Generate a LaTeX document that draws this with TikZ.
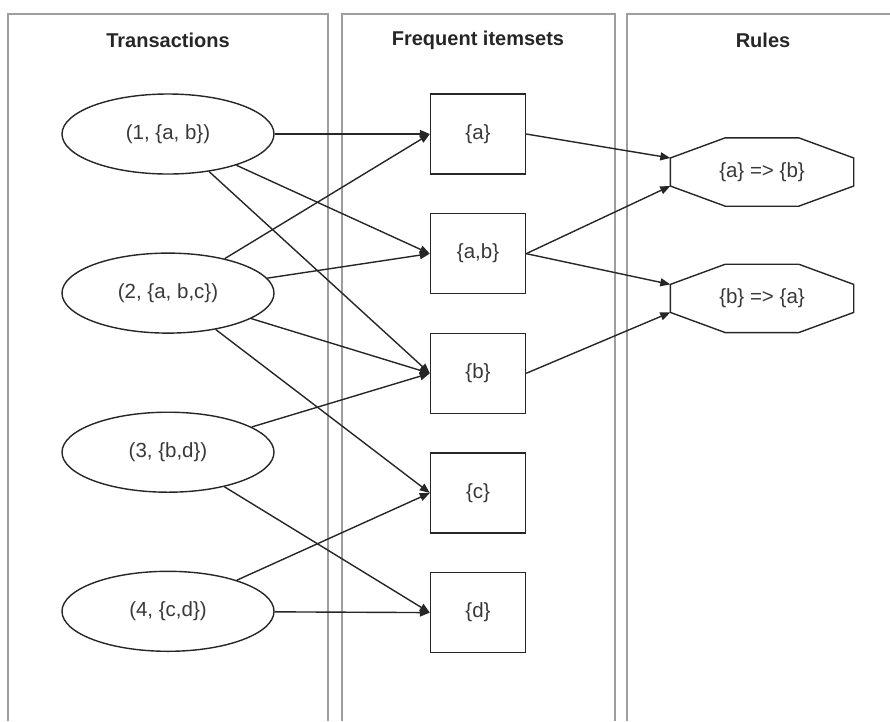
\documentclass[tikz,border=0pt]{standalone}
\usepackage{fontspec}
\setmainfont{Liberation Sans}
\usetikzlibrary{positioning,shapes.geometric,arrows.meta}
\tikzset{
  lane/.style={draw=black!38, line width=1.3pt},
  title/.style={font=\fontsize{20}{24}\selectfont\bfseries, text=black!85},
  trans/.style={ellipse, draw=black!85, line width=1.4pt, minimum width=212pt, minimum height=80pt, font=\fontsize{20.5}{24}\selectfont, text=black!78},
  itemset/.style={rectangle, draw=black!85, line width=1.4pt, minimum width=95pt, minimum height=80pt, font=\fontsize{20.5}{24}\selectfont, text=black!78},
  rule/.style={rectangle, draw=none, minimum width=183pt, minimum height=68pt, font=\fontsize{20.5}{24}\selectfont, text=black!78},
  outline/.style={draw=black!85, line width=1.4pt},
  link/.style={-{Triangle[length=10pt,width=8pt]}, line width=1.4pt, draw=black!85}
}

\begin{document}
\begin{tikzpicture}[x=1pt, y=-1pt]
  \useasboundingbox (0,0) rectangle (890,721);

  % Lanes
  \draw[lane] (8,721) |- (328,14) -- (328,721);
  \draw[lane] (342,721) |- (615,14) -- (615,721);
  \draw[lane] (627,721) |- (890,14);
  \node (ttrans) [title] at (168,40) {Transactions};
  \node (titems) [title] at (478,40) {Frequent itemsets};
  \node (trules) [title] at (763,40) {Rules};

  % Transactions
  \node (t1) [trans] at (168,134) {(1, \{a, b\})};
  \node (t2) [trans, below=77.7pt of t1] {(2, \{a, b,c\})};
  \node (t3) [trans, below=77.7pt of t2] {(3, \{b,d\})};
  \node (t4) [trans, below=77.7pt of t3] {(4, \{c,d\})};

  % Itemsets
  \node (a) [itemset] at (478,134) {\{a\}};
  \node (ab) [itemset, below=38.25pt of a] {\{a,b\}};
  \node (b) [itemset, below=38.25pt of ab] {\{b\}};
  \node (c) [itemset, below=38.25pt of b] {\{c\}};
  \node (d) [itemset, below=38.25pt of c] {\{d\}};

  % Rules
  \node (r1) [rule] at (762,172) {\{a\} => \{b\}};
  \node (r2) [rule, below=58pt of r1] {\{b\} => \{a\}};
  \foreach \r in {r1,r2}
    \draw[outline] ([xshift=55pt]\r.north west) -- ([xshift=-55pt]\r.north east)
      -- ([yshift=14pt]\r.east) -- ([yshift=-14pt]\r.east)
      -- ([xshift=-55pt]\r.south east) -- ([xshift=55pt]\r.south west)
      -- ([yshift=-14pt]\r.west) -- ([yshift=14pt]\r.west) -- cycle;

  \draw[link] (t1) -- (a.west);
  \draw[link] (t1) -- (ab.west);
  \draw[link] (t1) -- (b.west);
  \draw[link] (t2) -- (a.west);
  \draw[link] (t2) -- (ab.west);
  \draw[link] (t2) -- (b.west);
  \draw[link] (t2) -- (c.west);
  \draw[link] (t3) -- (b.west);
  \draw[link] (t3) -- (d.west);
  \draw[link] (t4) -- (c.west);
  \draw[link] (t4) -- (d.west);

  \draw[link] (a.east) -- ([yshift=14pt]r1.west);
  \draw[link] (ab.east) -- ([yshift=-14pt]r1.west);
  \draw[link] (ab.east) -- ([yshift=14pt]r2.west);
  \draw[link] (b.east) -- ([yshift=-14pt]r2.west);
\end{tikzpicture}
\end{document}
